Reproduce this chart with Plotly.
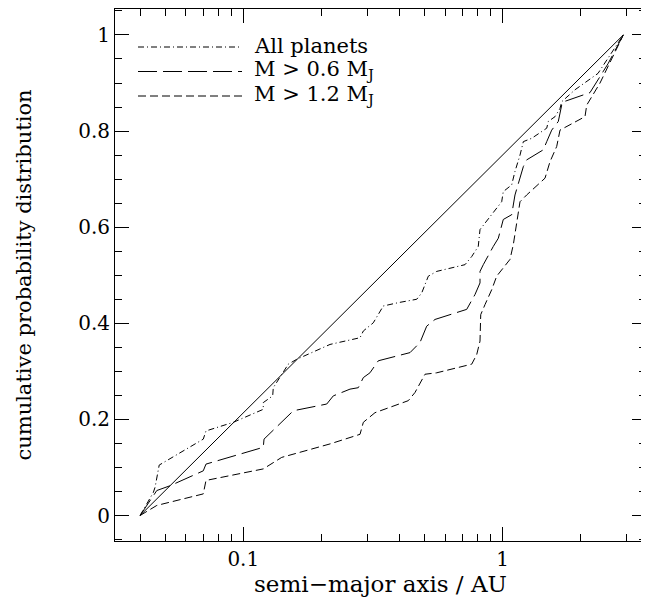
import plotly.graph_objects as go

# --- data ---
all_x = [0.04, 0.0450, 0.0457, 0.0474, 0.0701, 0.0718, 0.0915, 0.1194, 0.1194, 0.1298, 0.1305,
         0.1491, 0.1606, 0.2159, 0.2818, 0.2902, 0.3170, 0.3416, 0.3465, 0.3960, 0.4661, 0.4872,
         0.5166, 0.5566, 0.7157, 0.7596, 0.8050, 0.8175, 0.8547, 0.948, 0.991, 1.005, 1.083,
         1.115, 1.166, 1.201, 1.294, 1.478, 1.499, 1.591, 1.663, 1.688, 1.900, 2.330, 2.639, 2.917]
all_y = [0.0, 0.048, 0.059, 0.105, 0.159, 0.176, 0.194, 0.221, 0.235, 0.249, 0.266,
         0.315, 0.325, 0.356, 0.370, 0.384, 0.401, 0.432, 0.436, 0.443, 0.450, 0.463,
         0.498, 0.508, 0.522, 0.539, 0.560, 0.595, 0.609, 0.640, 0.653, 0.674, 0.688,
         0.716, 0.750, 0.778, 0.785, 0.806, 0.820, 0.830, 0.847, 0.861, 0.886, 0.920, 0.965, 1.0]

m06_x = [0.04, 0.0464, 0.0522, 0.0701, 0.0718, 0.1194, 0.1202, 0.1559, 0.2097, 0.2223, 0.2578,
         0.2775, 0.2902, 0.3078, 0.3315, 0.4392, 0.4799, 0.5093, 0.5483, 0.7265, 0.7822, 0.8175,
         0.8175, 0.8418, 0.9199, 0.9617, 1.005, 1.083, 1.115, 1.166, 1.201, 1.237, 1.434, 1.478,
         1.545, 1.638, 1.697, 2.170, 2.546, 2.917]
m06_y = [0.0, 0.052, 0.062, 0.093, 0.107, 0.142, 0.159, 0.218, 0.232, 0.249, 0.263,
         0.266, 0.287, 0.297, 0.322, 0.339, 0.360, 0.394, 0.408, 0.429, 0.460, 0.484,
         0.508, 0.522, 0.560, 0.577, 0.616, 0.626, 0.667, 0.702, 0.726, 0.740, 0.761, 0.778,
         0.802, 0.820, 0.860, 0.880, 0.940, 1.0]

m12_x = [0.04, 0.0464, 0.0701, 0.0718, 0.1194, 0.1406, 0.2159, 0.2578, 0.2818, 0.2902, 0.3218,
         0.4326, 0.4590, 0.5017, 0.5566, 0.7596, 0.7940, 0.8175, 0.8227, 0.8547, 0.9071, 0.948,
         1.036, 1.067, 1.099, 1.148, 1.166, 1.237, 1.456, 1.521, 1.615, 1.663, 1.817, 2.076,
         2.108, 2.372, 2.917]
m12_y = [0.0, 0.021, 0.045, 0.073, 0.097, 0.121, 0.149, 0.162, 0.169, 0.194, 0.214,
         0.239, 0.256, 0.294, 0.297, 0.315, 0.335, 0.363, 0.418, 0.439, 0.470, 0.498,
         0.526, 0.533, 0.564, 0.626, 0.653, 0.667, 0.702, 0.736, 0.768, 0.802, 0.813, 0.830,
         0.854, 0.900, 1.0]

uniform_x = [0.04, 2.917]
uniform_y = [0.0, 1.0]

x_major = [0.1, 1]
x_major_text = ["0.1", "1"]
x_minor = [0.04, 0.05, 0.06, 0.07, 0.08, 0.09, 0.2, 0.3, 0.4, 0.5, 0.6, 0.7, 0.8, 0.9, 2, 3]
y_major = [0, 0.2, 0.4, 0.6, 0.8, 1]
y_major_text = ["0", "0.2", "0.4", "0.6", "0.8", "1"]

legend_labels = ["All planets", "M &gt; 0.6 M<sub>J</sub>", "M &gt; 1.2 M<sub>J</sub>"]

FONT = "DejaVu Serif"
DASHDOT = "6px,3px,1px,3px"
LONGDASH = "19px,6px"
SHORTDASH = "8px,4px"

fig = go.Figure()
fig.add_trace(go.Scatter(x=uniform_x, y=uniform_y, mode="lines",
                         line=dict(color="black", width=1), showlegend=False))
fig.add_trace(go.Scatter(x=all_x, y=all_y, mode="lines",
                         line=dict(color="black", width=1, dash=DASHDOT), showlegend=False))
fig.add_trace(go.Scatter(x=m06_x, y=m06_y, mode="lines",
                         line=dict(color="black", width=1, dash=LONGDASH), showlegend=False))
fig.add_trace(go.Scatter(x=m12_x, y=m12_y, mode="lines",
                         line=dict(color="black", width=1, dash=SHORTDASH), showlegend=False))

# the page body adds an 8px offset, so the figure is sized to fit inside the window
W, H = 641, 593
ml, mr, mt, mb = 107, 3, 1, 60
pw, ph = W - ml - mr, H - mt - mb
def px(x):
    return (x - ml) / pw
def py(y):
    return 1 - (y - mt) / ph

for i, (lab, dash) in enumerate(zip(legend_labels, [DASHDOT, LONGDASH, SHORTDASH])):
    yy = 39 + 24.5 * i
    fig.add_shape(type="line", xref="paper", yref="paper",
                  x0=px(130), x1=px(234), y0=py(yy), y1=py(yy),
                  line=dict(color="black", width=1, dash=dash))
    fig.add_annotation(xref="paper", yref="paper", x=px(244), y=py(yy - 1),
                       text=lab, showarrow=False, xanchor="left", yanchor="middle",
                       font=dict(family=FONT, size=21, color="black"))

fig.update_layout(
    width=W, height=H,
    margin=dict(l=ml, r=mr, t=mt, b=mb),
    paper_bgcolor="white", plot_bgcolor="white",
    font=dict(family=FONT, size=20, color="black"),
    showlegend=False,
)
fig.update_xaxes(
    type="log", range=[-1.4946, 0.5524],
    showline=True, linecolor="black", linewidth=1, mirror="ticks",
    ticks="inside", ticklen=14, tickcolor="black", tickwidth=1,
    tickmode="array", tickvals=x_major, ticktext=x_major_text,
    minor=dict(ticks="inside", ticklen=7, tickcolor="black", tickwidth=1,
               tickmode="array", tickvals=x_minor, showgrid=False),
    showgrid=False, zeroline=False,
    title=dict(text="semi\u2212major axis / AU", font=dict(family=FONT, size=23), standoff=3),
)
fig.update_yaxes(
    range=[-0.053, 1.054],
    showline=True, linecolor="black", linewidth=1, mirror="ticks",
    ticks="inside", ticklen=14, tickcolor="black", tickwidth=1,
    tickmode="array", tickvals=y_major, ticktext=y_major_text,
    minor=dict(ticks="inside", ticklen=7, tickcolor="black", tickwidth=1, dtick=0.05,
               showgrid=False),
    showgrid=False, zeroline=False,
    title=dict(text="cumulative probability distribution", font=dict(family=FONT, size=21),
               standoff=40),
)

fig.write_html("out.html")
